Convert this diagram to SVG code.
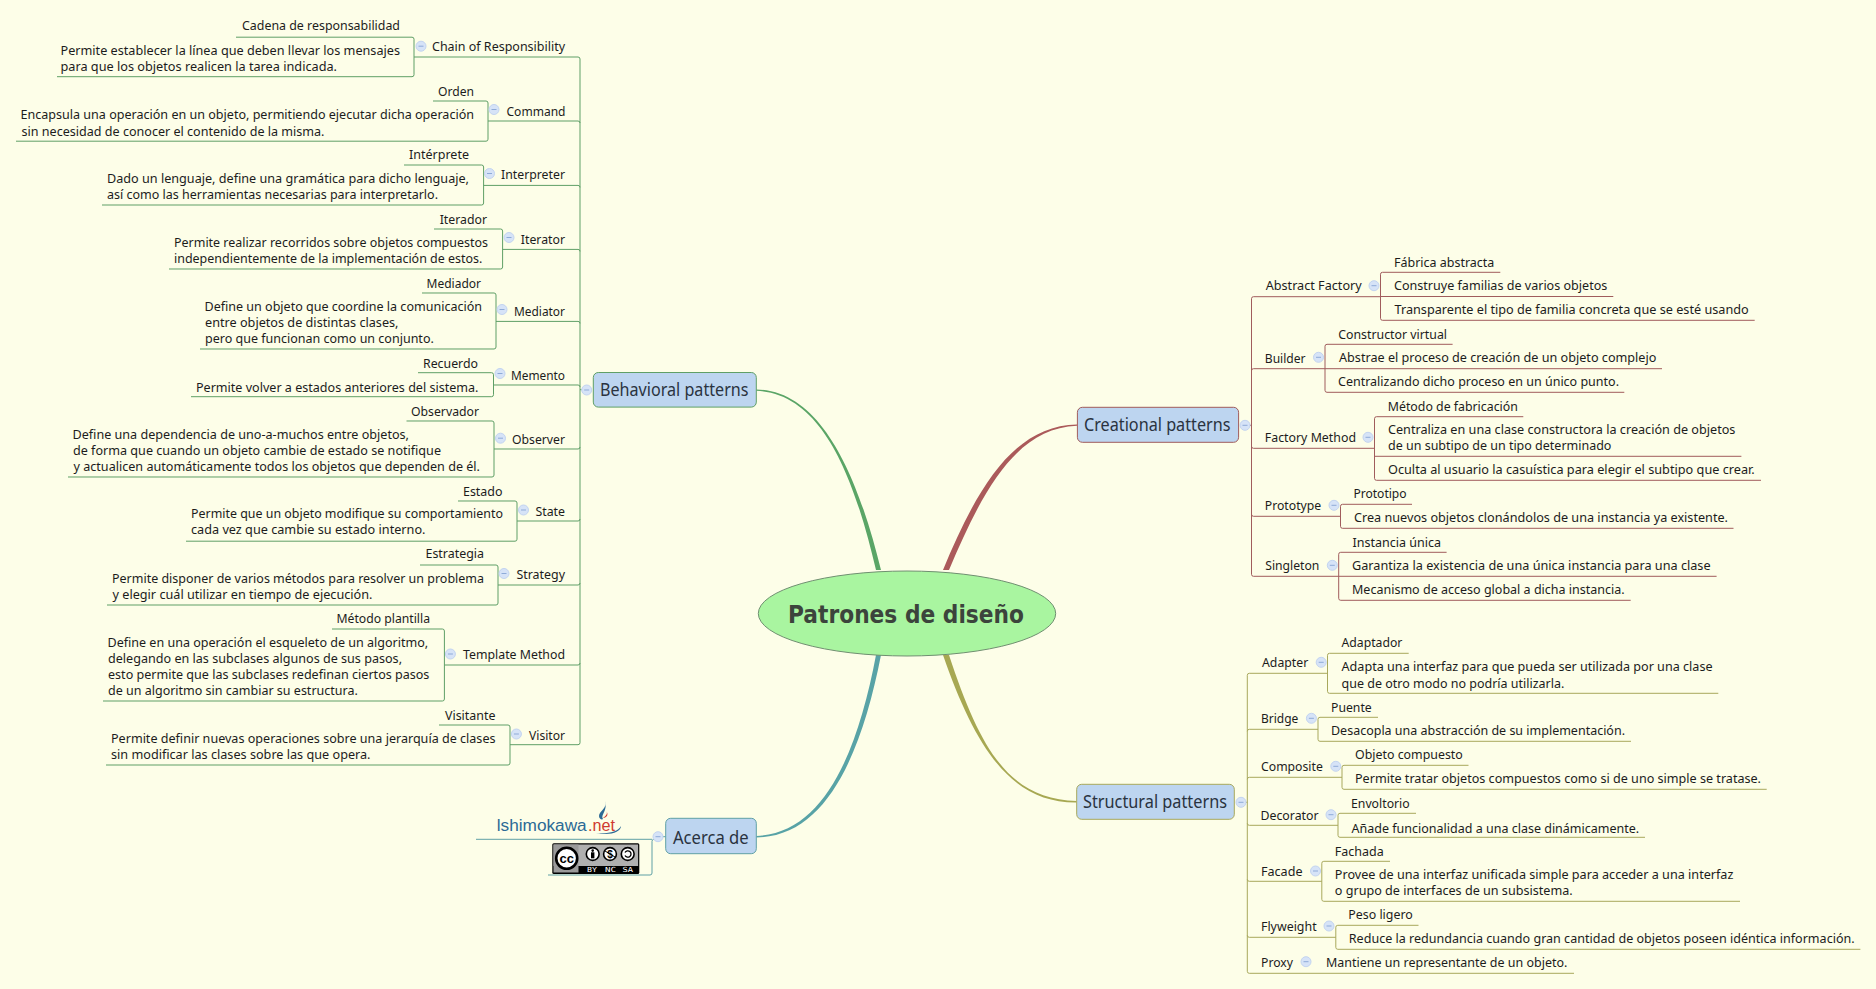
<svg xmlns="http://www.w3.org/2000/svg" width="1876" height="989" viewBox="0 0 1876 989">
<style>
text{font-family:"Noto Sans","Liberation Sans",sans-serif;font-size:13px;fill:#1c1c1c;dominant-baseline:central}
.m{font-size:18px;fill:#2a3340}
.root{font-family:"DejaVu Sans",sans-serif;font-size:25px;font-weight:bold;fill:#3c443c}
.topic{fill:#bdd5f0;stroke-width:1}
.l{fill:none;stroke-width:1}
.g{stroke:#5f9f66}.r{stroke:#a05c5c}.o{stroke:#a8a85c}.b{stroke:#5fa0a5}
.tick{fill:#d6e3f7;stroke:#c3d4f0;stroke-width:1}
.minus{stroke:#8fabd8;stroke-width:1}
</style>
<defs>
<g id="c"><circle r="5" class="tick"/><path d="M-2.5 0H2.5" class="minus"/></g>
</defs>
<rect width="1876" height="989" fill="#fdfee8"/>
<g id="connectors">
<path d="M756.3 389.4C825 390.4 860 485 881 570L876 570C856 485 825 393.4 756.3 390.8Z" fill="#5aa566"/>
<path d="M1077 424.4C1015 425.4 978 485 943 570L949 570C984 487 1017 428.4 1077 425.8Z" fill="#ab5a5a"/>
<path d="M876 655C858 750 825 833.4 756.3 836L756.3 837.4C827 837 862 752 881 655Z" fill="#58a3a6"/>
<path d="M949 655C981 752 1010 799 1076.7 801L1076.7 802.4C1012 803 976 750 943 655Z" fill="#a7a852"/>
<g class="l g" transform="translate(0,-0.3)">
<path d="M580 59.3V743M587 390H580"/>
<path d="M236 37.5H412q2 0 2 2V75q0 2-2 2H57M414 57.3H578q2 0 2 2"/>
<path d="M433 101.3H486q2 0 2 2V139.5q0 2-2 2H16M488 121.3H578q2 0 2 2"/>
<path d="M404 165.3H481.6q2 0 2 2V203.3q0 2-2 2H102M483.6 185.7H578q2 0 2 2"/>
<path d="M434 229.3H500.6q2 0 2 2V267.3q0 2-2 2H169M502.6 249.7H578q2 0 2 2"/>
<path d="M422 293.3H494q2 0 2 2V347.3q0 2-2 2H200M496 321.7H578q2 0 2 2"/>
<path d="M418 373H491.5q2 0 2 2V395q0 2-2 2H191M493.5 385.3H578q2 0 2 2"/>
<path d="M406.5 421.3H492q2 0 2 2V475.3q0 2-2 2H68M494 449.3H578q2 0 2-2"/>
<path d="M458 501.3H515q2 0 2 2V539.5q0 2-2 2H186M517 521.3H578q2 0 2-2"/>
<path d="M420 565.3H496q2 0 2 2V603.3q0 2-2 2H107M498 585.3H578q2 0 2-2"/>
<path d="M332 629.3H442.4q2 0 2 2V699.3q0 2-2 2H103M444.4 665.3H578q2 0 2-2"/>
<path d="M439 725.3H508q2 0 2 2V763.3q0 2-2 2H106M510 745H578q2 0 2-2"/>
</g>
<g class="l r">
<path d="M1251.5 298.7V574.3M1245 425.3H1251.5"/>
<path d="M1500.3 272.3H1382.5q-2 0-2 2V318.3q0 2 2 2H1754.7M1380.5 296.5H1613.3M1380.5 296.7H1253.5q-2 0-2 2"/>
<path d="M1452.6 344.3H1327q-2 0-2 2V390.3q0 2 2 2H1624.3M1325 368.7H1662M1325 368.7H1253.5q-2 0-2 2"/>
<path d="M1523.3 416.7H1376.5q-2 0-2 2V478.3q0 2 2 2H1761M1374.5 456.3H1741.4M1374.5 448.3H1253.5q-2 0-2-2"/>
<path d="M1412 504.3H1342.5q-2 0-2 2V526.3q0 2 2 2H1733.5M1340.5 516.3H1253.5q-2 0-2-2"/>
<path d="M1446.6 552.3H1340.7q-2 0-2 2V598.3q0 2 2 2H1630.7M1338.7 576.3H1716.6M1338.7 576.3H1253.5q-2 0-2-2"/>
</g>
<g class="l o">
<path d="M1247.3 675.3V971.3M1241 802.3H1247.3"/>
<path d="M1408.7 653.3H1329.5q-2 0-2 2V691.3q0 2 2 2H1718.3M1327.5 673.3H1249.3q-2 0-2 2"/>
<path d="M1378 717.3H1320q-2 0-2 2V739.3q0 2 2 2H1631M1318 729.3H1249.3q-2 0-2 2"/>
<path d="M1468.5 765.3H1344q-2 0-2 2V787.3q0 2 2 2H1766.7M1342 777.3H1249.3q-2 0-2 2"/>
<path d="M1416 813.3H1340q-2 0-2 2V835.3q0 2 2 2H1645M1338 825.3H1249.3q-2 0-2-2"/>
<path d="M1390 861.3H1323.8q-2 0-2 2V899.3q0 2 2 2H1740M1321.8 881.3H1249.3q-2 0-2-2"/>
<path d="M1418.5 925.3H1337.8q-2 0-2 2V947.3q0 2 2 2H1860.4M1335.8 937.3H1249.3q-2 0-2-2"/>
<path d="M1574 973.3H1249.3q-2 0-2-2"/>
</g>
<g class="l b">
<path d="M476 839.3H652M658 836.7H665.7"/>
<path d="M548 875H650q2 0 2-2V841.3q0-2 2-2"/>
</g>
</g>
<g id="root"><ellipse cx="907" cy="613.5" rx="148.7" ry="42.5" fill="#a9f5a0" stroke="#6f8f70"/><text class="root" x="788" y="614" textLength="236" lengthAdjust="spacingAndGlyphs">Patrones de diseño</text></g>

<g id="behavioral-branch" transform="translate(0,-0.5)">
<g id="behavioral"><rect class="topic g" x="593.3" y="373" width="163" height="34.6" rx="5"/><text class="m" x="600" y="389.5" textLength="148.5" lengthAdjust="spacingAndGlyphs">Behavioral patterns</text><use href="#c" x="586.7" y="390.5"/></g>
<g id="chain"><text x="432" y="46" textLength="133" lengthAdjust="spacingAndGlyphs">Chain of Responsibility</text><use href="#c" x="421" y="46.7"/></g>
<g id="chain-1"><text x="242" y="25.7" textLength="158" lengthAdjust="spacingAndGlyphs">Cadena de responsabilidad</text></g>
<g id="chain-2"><text><tspan x="60.5" y="50" textLength="339.5" lengthAdjust="spacingAndGlyphs">Permite establecer la línea que deben llevar los mensajes</tspan><tspan x="60.5" y="66" textLength="276.5" lengthAdjust="spacingAndGlyphs">para que los objetos realicen la tarea indicada.</tspan></text></g>
<g id="command"><text x="506.5" y="111" textLength="59" lengthAdjust="spacingAndGlyphs">Command</text><use href="#c" x="494" y="110"/></g>
<g id="command-1"><text x="438" y="91" textLength="36" lengthAdjust="spacingAndGlyphs">Orden</text></g>
<g id="command-2"><text><tspan x="20.5" y="114" textLength="453.5" lengthAdjust="spacingAndGlyphs">Encapsula una operación en un objeto, permitiendo ejecutar dicha operación</tspan><tspan x="21.5" y="131" textLength="303" lengthAdjust="spacingAndGlyphs">sin necesidad de conocer el contenido de la misma.</tspan></text></g>
<g id="interpreter"><text x="501" y="174" textLength="64" lengthAdjust="spacingAndGlyphs">Interpreter</text><use href="#c" x="489.5" y="174"/></g>
<g id="interpreter-1"><text x="409" y="154" textLength="60" lengthAdjust="spacingAndGlyphs">Intérprete</text></g>
<g id="interpreter-2"><text><tspan x="107" y="178.5" textLength="362" lengthAdjust="spacingAndGlyphs">Dado un lenguaje, define una gramática para dicho lenguaje,</tspan><tspan x="107" y="194.5" textLength="331" lengthAdjust="spacingAndGlyphs">así como las herramientas necesarias para interpretarlo.</tspan></text></g>
<g id="iterator"><text x="520.8" y="239" textLength="44.2" lengthAdjust="spacingAndGlyphs">Iterator</text><use href="#c" x="509" y="238"/></g>
<g id="iterator-1"><text x="439.7" y="219" textLength="47.3" lengthAdjust="spacingAndGlyphs">Iterador</text></g>
<g id="iterator-2"><text><tspan x="174" y="242" textLength="314" lengthAdjust="spacingAndGlyphs">Permite realizar recorridos sobre objetos compuestos</tspan><tspan x="174" y="258.5" textLength="308.4" lengthAdjust="spacingAndGlyphs">independientemente de la implementación de estos.</tspan></text></g>
<g id="mediator"><text x="514" y="311" textLength="51" lengthAdjust="spacingAndGlyphs">Mediator</text><use href="#c" x="502" y="310"/></g>
<g id="mediator-1"><text x="426.5" y="283" textLength="54.5" lengthAdjust="spacingAndGlyphs">Mediador</text></g>
<g id="mediator-2"><text><tspan x="204.5" y="306" textLength="277.5" lengthAdjust="spacingAndGlyphs">Define un objeto que coordine la comunicación</tspan><tspan x="205" y="322" textLength="193.5" lengthAdjust="spacingAndGlyphs">entre objetos de distintas clases,</tspan><tspan x="205" y="338" textLength="228.8" lengthAdjust="spacingAndGlyphs">pero que funcionan como un conjunto.</tspan></text></g>
<g id="memento"><text x="511" y="375" textLength="54" lengthAdjust="spacingAndGlyphs">Memento</text><use href="#c" x="500" y="374"/></g>
<g id="memento-1"><text x="423" y="363" textLength="55" lengthAdjust="spacingAndGlyphs">Recuerdo</text></g>
<g id="memento-2"><text x="196" y="387" textLength="282.5" lengthAdjust="spacingAndGlyphs">Permite volver a estados anteriores del sistema.</text></g>
<g id="observer"><text x="512" y="439" textLength="53" lengthAdjust="spacingAndGlyphs">Observer</text><use href="#c" x="500.5" y="438.7"/></g>
<g id="observer-1"><text x="411" y="411" textLength="68" lengthAdjust="spacingAndGlyphs">Observador</text></g>
<g id="observer-2"><text><tspan x="72.5" y="434" textLength="336.5" lengthAdjust="spacingAndGlyphs">Define una dependencia de uno-a-muchos entre objetos,</tspan><tspan x="73" y="450" textLength="368" lengthAdjust="spacingAndGlyphs">de forma que cuando un objeto cambie de estado se notifique</tspan><tspan x="73.5" y="466" textLength="406.5" lengthAdjust="spacingAndGlyphs">y actualicen automáticamente todos los objetos que dependen de él.</tspan></text></g>
<g id="state"><text x="535.4" y="511" textLength="29.6" lengthAdjust="spacingAndGlyphs">State</text><use href="#c" x="523.5" y="510.5"/></g>
<g id="state-1"><text x="463" y="491" textLength="39.5" lengthAdjust="spacingAndGlyphs">Estado</text></g>
<g id="state-2"><text><tspan x="191" y="513.5" textLength="312" lengthAdjust="spacingAndGlyphs">Permite que un objeto modifique su comportamiento</tspan><tspan x="191" y="529.5" textLength="234.5" lengthAdjust="spacingAndGlyphs">cada vez que cambie su estado interno.</tspan></text></g>
<g id="strategy"><text x="516.4" y="574" textLength="48.6" lengthAdjust="spacingAndGlyphs">Strategy</text><use href="#c" x="504" y="574"/></g>
<g id="strategy-1"><text x="425.5" y="553.5" textLength="58.5" lengthAdjust="spacingAndGlyphs">Estrategia</text></g>
<g id="strategy-2"><text><tspan x="112" y="578" textLength="372" lengthAdjust="spacingAndGlyphs">Permite disponer de varios métodos para resolver un problema</tspan><tspan x="112.5" y="594" textLength="260" lengthAdjust="spacingAndGlyphs">y elegir cuál utilizar en tiempo de ejecución.</tspan></text></g>
<g id="template"><text x="463" y="654" textLength="102" lengthAdjust="spacingAndGlyphs">Template Method</text><use href="#c" x="450.4" y="654.5"/></g>
<g id="template-1"><text x="336.5" y="618" textLength="93.5" lengthAdjust="spacingAndGlyphs">Método plantilla</text></g>
<g id="template-2"><text><tspan x="107.5" y="642" textLength="320.7" lengthAdjust="spacingAndGlyphs">Define en una operación el esqueleto de un algoritmo,</tspan><tspan x="108" y="658" textLength="294" lengthAdjust="spacingAndGlyphs">delegando en las subclases algunos de sus pasos,</tspan><tspan x="108" y="674" textLength="321.4" lengthAdjust="spacingAndGlyphs">esto permite que las subclases redefinan ciertos pasos</tspan><tspan x="108" y="690" textLength="249.8" lengthAdjust="spacingAndGlyphs">de un algoritmo sin cambiar su estructura.</tspan></text></g>
<g id="visitor"><text x="529" y="735" textLength="36" lengthAdjust="spacingAndGlyphs">Visitor</text><use href="#c" x="516.4" y="734.5"/></g>
<g id="visitor-1"><text x="445" y="715" textLength="50.4" lengthAdjust="spacingAndGlyphs">Visitante</text></g>
<g id="visitor-2"><text><tspan x="111" y="738" textLength="384.5" lengthAdjust="spacingAndGlyphs">Permite definir nuevas operaciones sobre una jerarquía de clases</tspan><tspan x="111" y="754" textLength="259.5" lengthAdjust="spacingAndGlyphs">sin modificar las clases sobre las que opera.</tspan></text></g>
</g>

<g id="acerca"><rect class="topic b" x="665.7" y="818.3" width="90.6" height="35.4" rx="5"/><text class="m" x="673" y="837" textLength="75.7" lengthAdjust="spacingAndGlyphs">Acerca de</text><use href="#c" x="658" y="836.7"/></g>
<g id="logo">
<text x="496.7" y="825" textLength="90" lengthAdjust="spacingAndGlyphs" style="font-family:'Liberation Sans',sans-serif;font-size:16px;fill:#2c6a95">lshimokawa</text>
<text x="588" y="825" textLength="27" lengthAdjust="spacingAndGlyphs" style="font-family:'Liberation Sans',sans-serif;font-size:16px;fill:#cf3a30">.net</text>
<path d="M605 801C608 808 599 811 599 816C599 819 602 820 603 819C600 815 608 811 605 801Z" fill="#2c6a95"/>
<path d="M606 811C609 814 604 817 603 818C607 818 609 814 606 811Z" fill="#cf3a30"/>
<path d="M596 833C608 834 618 832 621 826C621 832 610 836 596 833Z" fill="#2c6a95"/>
</g>
<g id="cc">
<rect x="552.3" y="843.3" width="87" height="30.7" rx="1.5" fill="#000"/>
<rect x="553.5" y="844.5" width="84.6" height="21.5" fill="#b0b0b0"/>
<rect x="553.5" y="844.5" width="25" height="28" fill="#9a9a9a"/>
<circle cx="566.7" cy="858.3" r="10.5" fill="#fff" stroke="#000" stroke-width="2.6"/>
<text x="559.5" y="858.5" textLength="14.5" lengthAdjust="spacingAndGlyphs" style="font-family:'Liberation Sans',sans-serif;font-size:13px;font-weight:bold;fill:#000">cc</text>
<circle cx="592.7" cy="854" r="6.4" fill="#fff" stroke="#000" stroke-width="1.6"/><circle cx="592.7" cy="850.6" r="1.3" fill="#000"/><rect x="591" y="852.3" width="3.4" height="6" fill="#000"/>
<circle cx="610" cy="854" r="6.4" fill="#fff" stroke="#000" stroke-width="1.6"/><text x="607.2" y="854" textLength="5.6" lengthAdjust="spacingAndGlyphs" style="font-family:'Liberation Sans',sans-serif;font-size:10px;font-weight:bold;fill:#000">$</text><path d="M605 851L615 857" stroke="#000"/>
<circle cx="627.7" cy="854" r="6.4" fill="#fff" stroke="#000" stroke-width="1.6"/><path d="M625 852.5A3.2 3.2 0 1 1 625 855.5" fill="none" stroke="#000" stroke-width="1.3"/>
<text x="587" y="870" textLength="10" lengthAdjust="spacingAndGlyphs" style="font-family:'DejaVu Sans Mono',monospace;font-size:7px;fill:#fff">BY</text>
<text x="605" y="870" textLength="11" lengthAdjust="spacingAndGlyphs" style="font-family:'DejaVu Sans Mono',monospace;font-size:7px;fill:#fff">NC</text>
<text x="622.5" y="870" textLength="10.5" lengthAdjust="spacingAndGlyphs" style="font-family:'DejaVu Sans Mono',monospace;font-size:7px;fill:#fff">SA</text>
</g>

<g id="creational"><rect class="topic r" x="1077.4" y="407.3" width="161.2" height="35" rx="5"/><text class="m" x="1084" y="424" textLength="146.5" lengthAdjust="spacingAndGlyphs">Creational patterns</text><use href="#c" x="1245" y="425.3"/></g>
<g id="abstract"><text x="1265.7" y="284.7" textLength="96" lengthAdjust="spacingAndGlyphs">Abstract Factory</text><use href="#c" x="1374" y="285.7"/></g>
<g id="abstract-1"><text x="1394" y="262.3" textLength="100.3" lengthAdjust="spacingAndGlyphs">Fábrica abstracta</text></g>
<g id="abstract-2"><text x="1394" y="285" textLength="213.3" lengthAdjust="spacingAndGlyphs">Construye familias de varios objetos</text></g>
<g id="abstract-3"><text x="1394.5" y="309.3" textLength="354.2" lengthAdjust="spacingAndGlyphs">Transparente el tipo de familia concreta que se esté usando</text></g>
<g id="builder"><text x="1264.8" y="358" textLength="40.8" lengthAdjust="spacingAndGlyphs">Builder</text><use href="#c" x="1318.5" y="357.3"/></g>
<g id="builder-1"><text x="1338.2" y="334" textLength="108.8" lengthAdjust="spacingAndGlyphs">Constructor virtual</text></g>
<g id="builder-2"><text x="1339" y="357" textLength="317.4" lengthAdjust="spacingAndGlyphs">Abstrae el proceso de creación de un objeto complejo</text></g>
<g id="builder-3"><text x="1338" y="381" textLength="281" lengthAdjust="spacingAndGlyphs">Centralizando dicho proceso en un único punto.</text></g>
<g id="factory"><text x="1264.8" y="436.7" textLength="91.2" lengthAdjust="spacingAndGlyphs">Factory Method</text><use href="#c" x="1368" y="437.3"/></g>
<g id="factory-1"><text x="1387.8" y="406.3" textLength="130" lengthAdjust="spacingAndGlyphs">Método de fabricación</text></g>
<g id="factory-2"><text><tspan x="1388" y="429" textLength="347.4" lengthAdjust="spacingAndGlyphs">Centraliza en una clase constructora la creación de objetos</tspan><tspan x="1388" y="445" textLength="223.4" lengthAdjust="spacingAndGlyphs">de un subtipo de un tipo determinado</tspan></text></g>
<g id="factory-3"><text x="1388" y="469" textLength="366.7" lengthAdjust="spacingAndGlyphs">Oculta al usuario la casuística para elegir el subtipo que crear.</text></g>
<g id="prototype"><text x="1264.8" y="505" textLength="56.4" lengthAdjust="spacingAndGlyphs">Prototype</text><use href="#c" x="1334" y="505.3"/></g>
<g id="prototype-1"><text x="1353.4" y="493" textLength="53.2" lengthAdjust="spacingAndGlyphs">Prototipo</text></g>
<g id="prototype-2"><text x="1354" y="517" textLength="374" lengthAdjust="spacingAndGlyphs">Crea nuevos objetos clonándolos de una instancia ya existente.</text></g>
<g id="singleton"><text x="1265.2" y="565" textLength="54.2" lengthAdjust="spacingAndGlyphs">Singleton</text><use href="#c" x="1332.3" y="565.3"/></g>
<g id="singleton-1"><text x="1352.5" y="542" textLength="88.5" lengthAdjust="spacingAndGlyphs">Instancia única</text></g>
<g id="singleton-2"><text x="1352" y="565" textLength="358.6" lengthAdjust="spacingAndGlyphs">Garantiza la existencia de una única instancia para una clase</text></g>
<g id="singleton-3"><text x="1352" y="589" textLength="272.7" lengthAdjust="spacingAndGlyphs">Mecanismo de acceso global a dicha instancia.</text></g>

<g id="structural"><rect class="topic o" x="1076.7" y="784.3" width="157.6" height="35" rx="5"/><text class="m" x="1083" y="801" textLength="144" lengthAdjust="spacingAndGlyphs">Structural patterns</text><use href="#c" x="1241" y="802.3"/></g>
<g id="adapter"><text x="1262" y="662" textLength="46.2" lengthAdjust="spacingAndGlyphs">Adapter</text><use href="#c" x="1321.2" y="662.3"/></g>
<g id="adapter-1"><text x="1341.5" y="642" textLength="60.9" lengthAdjust="spacingAndGlyphs">Adaptador</text></g>
<g id="adapter-2"><text><tspan x="1341.5" y="666" textLength="371.1" lengthAdjust="spacingAndGlyphs">Adapta una interfaz para que pueda ser utilizada por una clase</tspan><tspan x="1341.5" y="682.5" textLength="222.8" lengthAdjust="spacingAndGlyphs">que de otro modo no podría utilizarla.</tspan></text></g>
<g id="bridge"><text x="1261" y="718" textLength="37.3" lengthAdjust="spacingAndGlyphs">Bridge</text><use href="#c" x="1311.4" y="718.3"/></g>
<g id="bridge-1"><text x="1331" y="707" textLength="40.7" lengthAdjust="spacingAndGlyphs">Puente</text></g>
<g id="bridge-2"><text x="1331" y="730" textLength="294" lengthAdjust="spacingAndGlyphs">Desacopla una abstracción de su implementación.</text></g>
<g id="composite"><text x="1261" y="766" textLength="61.8" lengthAdjust="spacingAndGlyphs">Composite</text><use href="#c" x="1335.8" y="766.3"/></g>
<g id="composite-1"><text x="1355" y="754" textLength="107.8" lengthAdjust="spacingAndGlyphs">Objeto compuesto</text></g>
<g id="composite-2"><text x="1355" y="778" textLength="406" lengthAdjust="spacingAndGlyphs">Permite tratar objetos compuestos como si de uno simple se tratase.</text></g>
<g id="decorator"><text x="1260.5" y="815" textLength="58.1" lengthAdjust="spacingAndGlyphs">Decorator</text><use href="#c" x="1331" y="814.7"/></g>
<g id="decorator-1"><text x="1351" y="803" textLength="58.7" lengthAdjust="spacingAndGlyphs">Envoltorio</text></g>
<g id="decorator-2"><text x="1351.5" y="827.5" textLength="287.7" lengthAdjust="spacingAndGlyphs">Añade funcionalidad a una clase dinámicamente.</text></g>
<g id="facade"><text x="1261" y="871" textLength="41.5" lengthAdjust="spacingAndGlyphs">Facade</text><use href="#c" x="1315.5" y="871"/></g>
<g id="facade-1"><text x="1334.8" y="851" textLength="48.9" lengthAdjust="spacingAndGlyphs">Fachada</text></g>
<g id="facade-2"><text><tspan x="1334.8" y="874" textLength="398.6" lengthAdjust="spacingAndGlyphs">Provee de una interfaz unificada simple para acceder a una interfaz</tspan><tspan x="1334.8" y="890" textLength="237.8" lengthAdjust="spacingAndGlyphs">o grupo de interfaces de un subsistema.</tspan></text></g>
<g id="flyweight"><text x="1261" y="926" textLength="55.6" lengthAdjust="spacingAndGlyphs">Flyweight</text><use href="#c" x="1329" y="926"/></g>
<g id="flyweight-1"><text x="1348.3" y="914" textLength="64.5" lengthAdjust="spacingAndGlyphs">Peso ligero</text></g>
<g id="flyweight-2"><text x="1348.8" y="938" textLength="505.8" lengthAdjust="spacingAndGlyphs">Reduce la redundancia cuando gran cantidad de objetos poseen idéntica información.</text></g>
<g id="proxy"><text x="1261" y="962" textLength="32" lengthAdjust="spacingAndGlyphs">Proxy</text><use href="#c" x="1306" y="961.7"/></g>
<g id="proxy-1"><text x="1326" y="962" textLength="241.4" lengthAdjust="spacingAndGlyphs">Mantiene un representante de un objeto.</text></g>
</svg>
